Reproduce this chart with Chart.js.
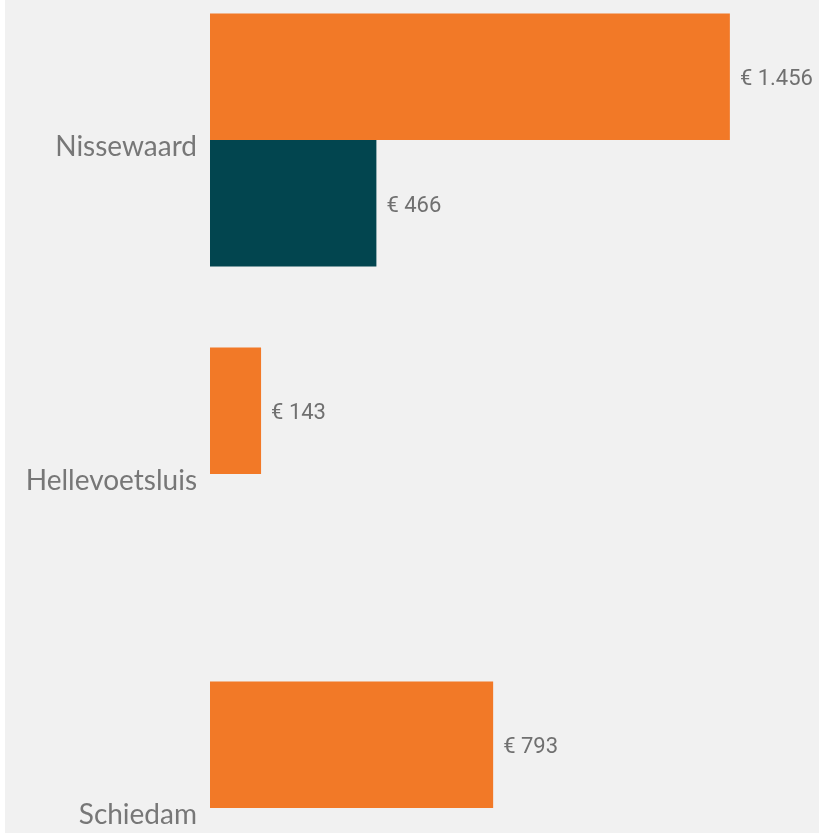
<!DOCTYPE html>
<html>
<head>
<meta charset="utf-8">
<script src="https://cdn.jsdelivr.net/npm/chart.js@4"></script>
<style>
  html, body { margin: 0; padding: 0; background: #ffffff; }
  #wrap { position: absolute; left: 5px; top: 0; width: 814px; height: 833px; background: #f1f1f1; }
</style>
</head>
<body>
<div id="wrap"><canvas id="chart" width="814" height="833"></canvas></div>
<script>
const categories = ["Nissewaard", "Hellevoetsluis", "Schiedam"];
const orangeValues = [1456, 143, 793];
const tealValues = [466, null, null];
const xMax = 1700;

// draws "€ 1.456" style labels right of each bar
const valueLabels = {
    id: "valueLabels",
    afterDatasetsDraw(chart) {
        const ctx = chart.ctx;
        ctx.save();
        ctx.font = "22px Roboto";
        ctx.fillStyle = "#707070";
        ctx.textAlign = "left";
        ctx.textBaseline = "middle";
        chart.data.datasets.forEach((ds, i) => {
            const meta = chart.getDatasetMeta(i);
            meta.data.forEach((bar, j) => {
                const v = ds.data[j];
                if (v === null || v === undefined) return;
                const txt = "€ " + String(v).replace(/\B(?=(\d{3})+(?!\d))/g, ".");
                ctx.fillText(txt, bar.x + 10, bar.y + 3);
            });
        });
        ctx.restore();
    }
};

new Chart(document.getElementById("chart"), {
    type: "bar",
    data: {
        labels: categories,
        datasets: [
            {
                data: orangeValues,
                backgroundColor: "#f27927",
                categoryPercentage: 0.757,
                barPercentage: 1,
                clip: false
            },
            {
                data: tealValues,
                backgroundColor: "#02454f",
                categoryPercentage: 0.757,
                barPercentage: 1,
                clip: false
            }
        ]
    },
    options: {
        indexAxis: "y",
        responsive: false,
        animation: false,
        layout: { padding: { top: 140, bottom: 25, left: 0, right: 2 } },
        plugins: { legend: { display: false }, tooltip: { enabled: false } },
        scales: {
            x: { display: false, min: 0, max: xMax },
            y: {
                offset: false,
                grid: { display: false },
                border: { display: false },
                ticks: {
                    padding: 5,
                    labelOffset: 7,
                    color: "#777777",
                    font: { family: "Lato", size: 28 }
                },
                afterFit(scale) {
                    scale.width = 205;
                    scale.paddingTop = 0;
                    scale.paddingBottom = 0;
                }
            }
        }
    },
    plugins: [valueLabels]
});
</script>
</body>
</html>
